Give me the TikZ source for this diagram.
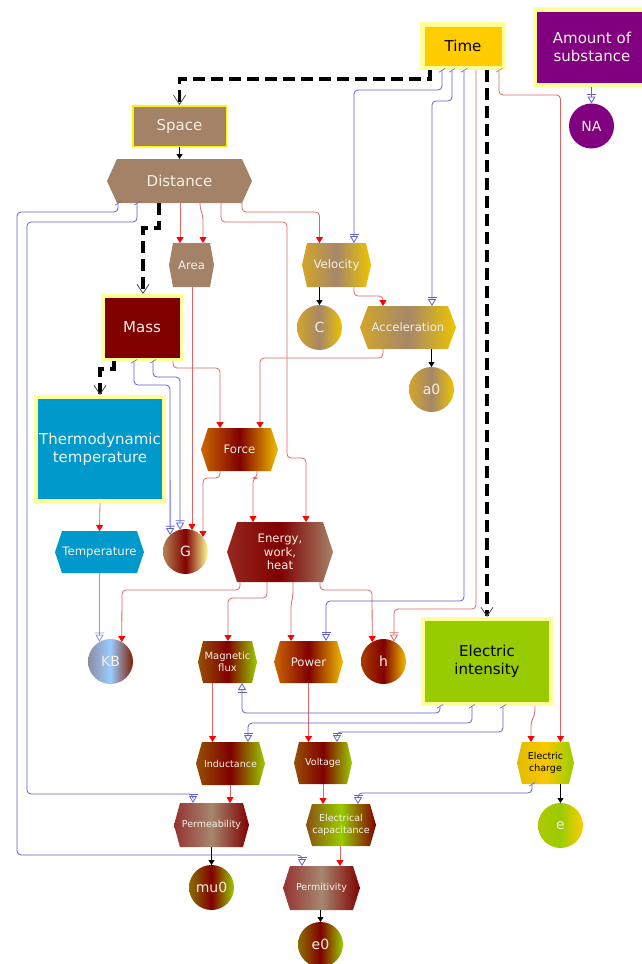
\documentclass[tikz,border=0pt]{standalone}
\usepackage{fontspec}
\setmainfont{DejaVu Sans}
\usetikzlibrary{arrows.meta}
\definecolor{cBrown}{RGB}{164,130,104}
\definecolor{cBand}{RGB}{255,255,153}
\definecolor{cTime}{RGB}{255,204,0}
\definecolor{cPurple}{RGB}{128,0,128}
\definecolor{cMaroon}{RGB}{128,0,0}
\definecolor{cBlue}{RGB}{0,153,204}
\definecolor{cGreen}{RGB}{153,204,0}
\definecolor{txtw}{RGB}{245,240,230}
\definecolor{redline}{RGB}{224,100,100}
\definecolor{blueline}{RGB}{96,96,208}
\definecolor{bluelight}{RGB}{140,150,230}
\definecolor{velL}{RGB}{210,165,40}
\definecolor{velM}{RGB}{165,135,105}
\definecolor{velR}{RGB}{238,196,0}
\definecolor{forL}{RGB}{204,102,0}
\definecolor{forR}{RGB}{240,190,0}
\definecolor{hL}{RGB}{170,60,0}
\definecolor{gL}{RGB}{180,130,80}
\definecolor{gR}{RGB}{255,255,153}
\definecolor{enL}{RGB}{150,40,30}
\definecolor{enR}{RGB}{165,130,105}
\definecolor{kbL}{RGB}{140,140,160}
\definecolor{kbM}{RGB}{153,204,255}
\definecolor{kbR}{RGB}{128,30,0}
\definecolor{magL}{RGB}{150,80,0}
\definecolor{muL}{RGB}{140,110,0}
\definecolor{pmL}{RGB}{150,50,50}
\definecolor{pmM}{RGB}{165,135,110}
\definecolor{capL}{RGB}{140,80,20}
\definecolor{chL}{RGB}{225,188,0}
\definecolor{chM}{RGB}{250,200,0}
\definecolor{eL}{RGB}{175,200,0}
\newcommand{\fB}{\fontsize{15}{18}\selectfont}
\newcommand{\fM}{\fontsize{11.7}{13.5}\selectfont}
\newcommand{\fS}{\fontsize{9.5}{12}\selectfont}
\newcommand{\fC}{\fontsize{14}{16}\selectfont}
\newcommand{\hexn}[9]{%
 \path[#7] ({#2-#4/2},{#3}) -- ({#2-#4/2+#6},{#3-#5/2}) -- ({#2+#4/2-#6},{#3-#5/2}) -- ({#2+#4/2},{#3}) -- ({#2+#4/2-#6},{#3+#5/2}) -- ({#2-#4/2+#6},{#3+#5/2}) -- cycle;
 \node[hexnode, minimum width=#4pt, minimum height=#5pt, #8] (#1) at (#2,#3) {#9};}
\tikzset{
 hexnode/.style={rectangle, inner sep=0pt, outer sep=0pt, align=center, text=txtw},
 circ/.style={circle, minimum size=45pt, inner sep=0pt, outer sep=0pt, text=txtw, font=\fC},
 box/.style={rectangle, inner sep=0pt, align=center, text=txtw, font=\fB},
 gVel/.style={shade, left color=velL, right color=velR, middle color=velM},
 gForce/.style={shade, left color=forL, right color=forR, middle color=cMaroon},
 gH/.style={shade, left color=hL, right color=forR, middle color=cMaroon},
 gG/.style={shade, left color=gL, right color=gR, middle color=cMaroon},
 gEnergy/.style={shade, left color=enL, right color=enR, middle color=cMaroon},
 gKB/.style={shade, left color=kbL, right color=kbR, middle color=kbM},
 gMag/.style={shade, left color=magL, right color=cGreen, middle color=cMaroon},
 gMu/.style={shade, left color=muL, right color=cGreen, middle color=cMaroon},
 gPerm/.style={shade, left color=pmL, right color=cMaroon, middle color=pmM},
 gCap/.style={shade, left color=capL, right color=cMaroon, middle color=cGreen},
 gCharge/.style={shade, left color=chL, right color=cGreen, middle color=chM},
 gE/.style={shade, left color=eL, right color=cTime, middle color=cGreen},
 rd/.style={draw=redline, line width=0.8pt, rounded corners=4pt, -{Triangle[length=6pt,width=7pt,color=red]}},
 rds/.style={draw=redline, line width=0.8pt, rounded corners=4pt, {Bar[width=6pt,slant=-0.6,line width'=0.7pt]}-{Triangle[length=6pt,width=7pt,color=red]}},
 rdbar/.style={draw=redline, line width=0.8pt, rounded corners=4pt, -{Bar[width=9pt,sep=1.5pt]Triangle[open,length=7pt,width=8pt]}},
 bl/.style={draw=blueline, line width=0.8pt, rounded corners=4pt, {Bar[width=6pt,slant=-0.6,line width'=0.7pt]}-{Bar[width=9pt,sep=1.5pt]Triangle[open,length=7pt,width=8pt]}},
 blp/.style={draw=blueline, line width=0.8pt, -{Bar[width=9pt,sep=1.5pt]Triangle[open,length=7pt,width=8pt]}},
 bll/.style={draw=bluelight, line width=0.8pt, -{Bar[width=9pt,sep=1.5pt]Triangle[open,length=7pt,width=8pt]}},
 blk/.style={draw=black, line width=0.8pt, -{Triangle[length=5pt,width=6pt]}},
 dsh/.style={draw=black, line width=3.5pt, dash pattern=on 12pt off 6pt, -{Straight Barb[length=9pt,width=12pt,line width'=0.8pt,color=black!70]}},
}
\begin{document}
\begin{tikzpicture}[x=1pt,y=-1pt]
\useasboundingbox (0,0) rectangle (642,964);
% boxes
\node[box, fill=cTime, draw=cBand, line width=4.5pt, minimum width=81.5pt, minimum height=43.5pt, text=black] (time) at (463,46) {Time};
\node[box, fill=cPurple, draw=cBand, line width=4.5pt, minimum width=114pt, minimum height=75.5pt] (amount) at (592,47) {Amount of\\substance};
\node[box, fill=cBrown, draw=yellow, line width=1.5pt, minimum width=93.5pt, minimum height=40.5pt] (space) at (179.5,126) {Space};
\node[box, fill=cMaroon, draw=cBand, line width=3.5pt, minimum width=78.5pt, minimum height=63.5pt] (mass) at (142,327.5) {Mass};
\node[box, fill=cBlue, draw=cBand, line width=4pt, minimum width=128pt, minimum height=104pt] (thermo) at (100,449) {Thermodynamic\\temperature};
\node[box, fill=cGreen, draw=cBand, line width=4pt, minimum width=128pt, minimum height=85pt, text=black] (ei) at (487,661.5) {Electric\\intensity};
% hexagons
\hexn{dist}{179.5}{181}{145}{44}{10}{fill=cBrown}{font=\fB}{Distance}
\hexn{area}{191.5}{265}{45}{44}{4}{fill=cBrown}{font=\fM}{Area}
\hexn{vel}{336.5}{265}{69}{44}{5}{gVel}{font=\fM}{Velocity}
\hexn{acc}{408}{327.5}{96}{43}{8}{gVel}{font=\fM}{Acceleration}
\hexn{force}{239.5}{449.5}{77}{43}{7}{gForce}{font=\fM}{Force}
\hexn{energy}{280}{552}{106}{60}{10}{gEnergy}{font=\fM}{Energy,\\work,\\heat}
\hexn{temp}{99.5}{552}{89}{42}{7}{fill=cBlue}{font=\fM}{Temperature}
\hexn{mag}{227.5}{662}{59}{42}{5}{gMag}{font=\fontsize{10}{11.5}\selectfont}{Magnetic\\flux}
\hexn{power}{308.5}{662}{69}{42}{6}{gForce}{font=\fM}{Power}
\hexn{ind}{230.5}{763.5}{69}{43}{6}{gMag}{font=\fS}{Inductance}
\hexn{volt}{323}{763}{58}{42}{5}{gMag}{font=\fS}{Voltage}
\hexn{charge}{545.5}{763}{57}{42}{5}{gCharge}{font=\fS, text=black}{Electric\\charge}
\hexn{perm}{211.5}{825}{75}{44}{6}{gPerm}{font=\fS}{Permeability}
\hexn{cap}{341}{825}{70}{42}{6}{gCap}{font=\fS}{Electrical\\capacitance}
\hexn{permit}{321.5}{888}{77}{44}{7}{gPerm}{font=\fS}{Permitivity}
% circles
\node[circ, gVel] (c) at (319.5,327.5) {C};
\node[circ, gVel] (a0) at (431.5,389.5) {a0};
\node[circ, gG] (g) at (185.5,551.5) {G};
\node[circ, gKB] (kb) at (110.5,661.5) {KB};
\node[circ, gH] (h) at (383.5,661.5) {h};
\node[circ, fill=cPurple] (na) at (591.5,126) {NA};
\node[circ, gE] (e) at (560.5,825.5) {e};
\node[circ, gMu] (mu0) at (211.5,887.5) {mu0};
\node[circ, gMu] (e0) at (320.5,944.5) {e0};
% thick dashed
\draw[dsh] (430,0 |- time.south) -- (430,79) -- (179.5,79) -- (space.north);
\draw[dsh] (159,0 |- dist.south) -- (159,228) -- (143,228) -- (143,0 |- mass.north);
\draw[dsh] (114,0 |- mass.south) -- (114,369) -- (100,369) -- (thermo.north);
\draw[dsh] (487,0 |- time.south) -- (ei.north);
% black
\draw[blk] (space.south) -- (dist.north);
\draw[blk] (319.5,0 |- vel.south) -- (c.north);
\draw[blk] (431.5,0 |- acc.south) -- (a0.north);
\draw[blk] (560.5,0 |- charge.south) -- (e.north);
\draw[blk] (perm.south) -- (mu0.north);
\draw[blk] (320.5,0 |- permit.south) -- (e0.north);
% red
\draw[rd] (180,0 |- dist.south) -- (180,0 |- area.north);
\draw[rd] (200,0 |- dist.south) -- (200,208) -- (203,216) -- (203,0 |- area.north);
\draw[rd] (221,0 |- dist.south) -- (221,222) -- (287,222) -- (287,458) -- (306,458) -- (306,0 |- energy.north);
\draw[rd] (242,0 |- dist.south) -- (242,212) -- (319.5,212) -- (319.5,0 |- vel.north);
\draw[rd] (354,0 |- vel.south) -- (354,296) -- (383,296) -- (383,0 |- acc.north);
\draw[rd] (383,0 |- acc.south) -- (383,358) -- (260,358) -- (260,0 |- force.north);
\draw[rd] (173,0 |- mass.south) -- (173,368) -- (220,368) -- (220,0 |- force.north);
\draw[rd] (192,0 |- area.south) -- (192,0 |- g.73);
\draw[rd] (220,0 |- force.south) -- (220,478) -- (203,478) -- (203,0 |- g.40);
\draw[rd] (257,0 |- force.south) -- (257,478) -- (253,478) -- (253,0 |- energy.north);
\draw[rd] (thermo.south) -- (temp.north);
\draw[rd] (240,0 |- energy.south) -- (240,590) -- (122,590) -- (kb.60);
\draw[rd] (267,0 |- energy.south) -- (267,598) -- (228,598) -- (228,0 |- mag.north);
\draw[rd] (293,0 |- energy.south) -- (293,596) -- (291,604) -- (291,0 |- power.north);
\draw[rd] (320,0 |- energy.south) -- (320,590) -- (372,590) -- (h.120);
\draw[rdbar] (476,0 |- time.south) -- (476,609) -- (394,609) -- (h.62);
\draw[rds] (499,0 |- time.south) -- (499,95) -- (560.5,95) -- (560.5,0 |- charge.north);
\draw[rd] (535,0 |- ei.south) -- (535,714) -- (531,722) -- (531,0 |- charge.north);
\draw[rd] (212.5,0 |- mag.south) -- (212.5,0 |- ind.north);
\draw[rd] (308.5,0 |- power.south) -- (308.5,0 |- volt.north);
\draw[rd] (230,0 |- ind.south) -- (230,0 |- perm.north);
\draw[rd] (323,0 |- volt.south) -- (323,0 |- cap.north);
\draw[rd] (340,0 |- cap.south) -- (340,0 |- permit.north);
% blue
\draw[bl] (442,0 |- time.south) -- (442,90) -- (354,90) -- (354,0 |- vel.north);
\draw[bl] (452,0 |- time.south) -- (452,101) -- (432,101) -- (432,0 |- acc.north);
\draw[bl] (464,0 |- time.south) -- (464,601) -- (326,601) -- (326,0 |- power.north);
\draw[bl] (134,0 |- mass.south) -- (134,385) -- (170,385) -- (g.133);
\draw[bl] (153,0 |- mass.south) -- (153,377) -- (180,377) -- (g.104);
\draw[bl] (118,0 |- dist.south) -- (118,212) -- (17,212) -- (17,855) -- (302,855) -- (302,0 |- permit.north);
\draw[bl] (137,0 |- dist.south) -- (137,222) -- (27,222) -- (27,794) -- (193,794) -- (193,0 |- perm.north);
\draw[bll] (99.5,0 |- temp.south) -- (kb.119);
\draw[bl] (440,0 |- ei.south) -- (440,713) -- (242,713) -- (242,0 |- mag.south);
\draw[bl] (472,0 |- ei.south) -- (472,723) -- (248,723) -- (248,0 |- ind.north);
\draw[bl] (503,0 |- ei.south) -- (503,732) -- (337,732) -- (337,0 |- volt.north);
\draw[bl] (532,0 |- charge.south) -- (532,793) -- (358,793) -- (358,0 |- cap.north);
\draw[blp] (591.5,0 |- amount.south) -- (na.north);
\end{tikzpicture}
\end{document}
